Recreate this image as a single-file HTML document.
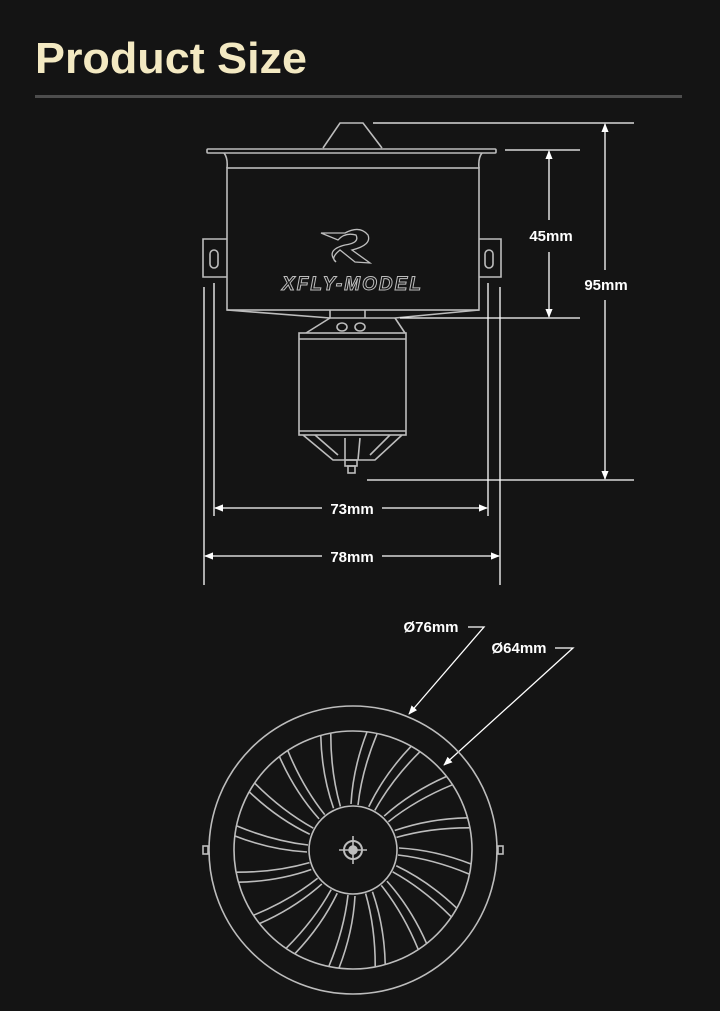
<!DOCTYPE html>
<html><head><meta charset="utf-8"><style>
html,body{margin:0;padding:0;background:#141414;}
svg{display:block}
</style></head><body>
<svg width="720" height="1011" viewBox="0 0 720 1011" xmlns="http://www.w3.org/2000/svg">
<defs>
<marker id="a" viewBox="0 0 10 10" refX="9" refY="5" markerWidth="7" markerHeight="7" orient="auto-start-reverse"><path d="M0,1 L10,5 L0,9 z" fill="#fff"/></marker>
<g id="bl" fill="none" stroke="#bdbdbd" stroke-width="1.6">
<path d="M-2,-46 Q0,-82 14,-118"/>
<path d="M5,-45 Q9,-80 24,-116"/>
</g>
</defs>
<rect width="720" height="1011" fill="#141414"/>
<text x="35" y="73" font-family="Liberation Sans, sans-serif" font-size="44" font-weight="bold" fill="#f3e9c2" textLength="272" lengthAdjust="spacingAndGlyphs">Product Size</text>
<rect x="35" y="95" width="647" height="3" fill="#4d4d4d"/>

<g fill="none" stroke="#bdbdbd" stroke-width="1.6">
<path d="M323,148 L340,123 L363,123 L382,148"/>
<rect x="207" y="149" width="289" height="4" rx="1"/>
<path d="M224,153 Q228,158 227,168 M482,153 Q478,158 479,168"/>
<rect x="227" y="168" width="252" height="142"/>
<path d="M227,239 L203,239 L203,277 L227,277 M479,239 L501,239 L501,277 L479,277"/>
<rect x="210" y="250" width="8" height="18" rx="4"/>
<rect x="485" y="250" width="8" height="18" rx="4"/>
<path d="M227,310 L330,318 L395,318 L479,310 M330,310 L330,318 M365,310 L365,318"/>
<path d="M330,318 L306,333 M395,318 L405,333"/>
<ellipse cx="342" cy="327" rx="5" ry="4"/><ellipse cx="360" cy="327" rx="5" ry="4"/>
<rect x="299" y="333" width="107" height="102"/>
<line x1="299" y1="339" x2="406" y2="339"/>
<line x1="299" y1="431" x2="406" y2="431"/>
<path d="M303,435 L333,460 L375,460 L402,435 M315,435 L338,455 M390,435 L370,455 M345,438 L345,460 M360,438 L358,460"/>
<rect x="345" y="460" width="12" height="6"/>
<rect x="348" y="466" width="7" height="7"/>
</g>
<g fill="none" stroke="#bdbdbd" stroke-width="1.3">
<path d="M321,233 L345,233 Q360,225 368,235 Q372,245 352,250 L370,263 L355,262 L340,250 Q330,258 336,262 Q325,250 345,245 Q360,243 356,235 Q345,232 338,240 Z"/>
</g>
<text x="352" y="290" text-anchor="middle" font-family="Liberation Sans, sans-serif" font-size="19" font-style="italic" font-weight="bold" fill="none" stroke="#bdbdbd" stroke-width="1" textLength="140" letter-spacing="1">XFLY-MODEL</text>

<g stroke="#fff" stroke-width="1.3" fill="none">
<line x1="373" y1="123" x2="634" y2="123"/>
<line x1="505" y1="150" x2="580" y2="150"/>
<line x1="400" y1="318" x2="580" y2="318"/>
<line x1="367" y1="480" x2="634" y2="480"/>
<line x1="549" y1="151" x2="549" y2="220" marker-start="url(#a)"/>
<line x1="549" y1="252" x2="549" y2="317" marker-end="url(#a)"/>
<line x1="605" y1="124" x2="605" y2="270" marker-start="url(#a)"/>
<line x1="605" y1="300" x2="605" y2="479" marker-end="url(#a)"/>
<line x1="214" y1="283" x2="214" y2="516"/>
<line x1="488" y1="283" x2="488" y2="516"/>
<line x1="204" y1="287" x2="204" y2="585"/>
<line x1="500" y1="287" x2="500" y2="585"/>
<line x1="215" y1="508" x2="322" y2="508" marker-start="url(#a)"/>
<line x1="382" y1="508" x2="487" y2="508" marker-end="url(#a)"/>
<line x1="205" y1="556" x2="322" y2="556" marker-start="url(#a)"/>
<line x1="382" y1="556" x2="499" y2="556" marker-end="url(#a)"/>
<path d="M468,627 L484,627 L409,714" marker-end="url(#a)"/>
<path d="M555,648 L573,648 L444,765" marker-end="url(#a)"/>
</g>
<g font-family="Liberation Sans, sans-serif" font-size="15" font-weight="bold" fill="#fff" text-anchor="middle">
<text x="551" y="241">45mm</text>
<text x="606" y="290">95mm</text>
<text x="352" y="514">73mm</text>
<text x="352" y="562">78mm</text>
<text x="431" y="632">Ø76mm</text>
<text x="519" y="653">Ø64mm</text>
</g>

<g transform="translate(353,850)" fill="none" stroke="#bdbdbd" stroke-width="1.6">
<circle r="144"/>
<circle r="119"/>
<circle r="44"/>
<rect x="-150" y="-4" width="5" height="8"/>
<rect x="145" y="-4" width="5" height="8"/>
<use href="#bl"/>
<use href="#bl" transform="rotate(22.5)"/>
<use href="#bl" transform="rotate(45)"/>
<use href="#bl" transform="rotate(67.5)"/>
<use href="#bl" transform="rotate(90)"/>
<use href="#bl" transform="rotate(112.5)"/>
<use href="#bl" transform="rotate(135)"/>
<use href="#bl" transform="rotate(157.5)"/>
<use href="#bl" transform="rotate(180)"/>
<use href="#bl" transform="rotate(202.5)"/>
<use href="#bl" transform="rotate(225)"/>
<use href="#bl" transform="rotate(247.5)"/>
<use href="#bl" transform="rotate(270)"/>
<use href="#bl" transform="rotate(292.5)"/>
<use href="#bl" transform="rotate(315)"/>
<use href="#bl" transform="rotate(337.5)"/>
<circle r="9" stroke-width="2"/>
<circle r="4" fill="#bdbdbd"/>
<path d="M-14,0 L14,0 M0,-14 L0,14"/>
</g>
</svg>
</body></html>
